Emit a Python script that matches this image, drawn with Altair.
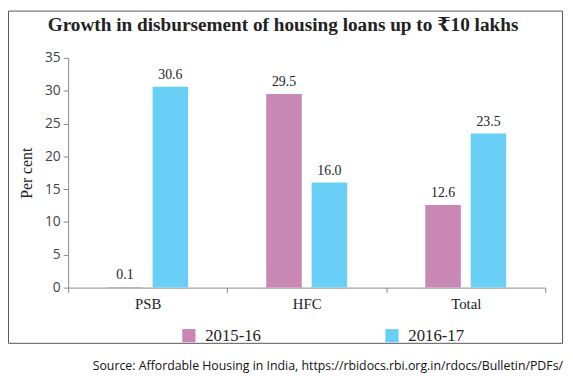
import altair as alt
import pandas as pd

categories = ["PSB", "HFC", "Total"]
series_names = ["2015-16", "2016-17"]
values_2015_16 = [0.1, 29.5, 12.6]
values_2016_17 = [30.6, 16.0, 23.5]
y_ticks = [0, 5, 10, 15, 20, 25, 30, 35]
title_text = ["Growth in disbursement of housing loans up to ₹10 lakhs"]
source_text = ["Source: Affordable Housing in India, https://rbidocs.rbi.org.in/rdocs/Bulletin/PDFs/"]
colors = ["#C888B3", "#6ACFF6"]

rows = []
for i, c in enumerate(categories):
    rows.append({"cat": c, "series": series_names[0], "value": values_2015_16[i]})
    rows.append({"cat": c, "series": series_names[1], "value": values_2016_17[i]})
df = pd.DataFrame(rows)

SERIF = "Liberation Serif, DejaVu Serif, serif"
SANS = "Open Sans, Noto Sans, sans-serif"

x_enc = alt.X("cat:N", sort=categories, title=None,
              scale=alt.Scale(paddingInner=0, paddingOuter=0),
              axis=alt.Axis(labelAngle=0, tickBand="extent", labelFont=SERIF, labelFontSize=15,
                            labelColor="#222", domainColor="#888", tickColor="#888", tickSize=5,
                            labelPadding=4))
xoff = alt.XOffset("series:N", sort=series_names,
                   scale=alt.Scale(paddingInner=0.217, paddingOuter=0.86))
y_enc = alt.Y("value:Q", title="Per cent",
              scale=alt.Scale(domain=[0, 35], nice=False),
              axis=alt.Axis(values=y_ticks, grid=False, labelFont=SANS, labelFontSize=14,
                            labelColor="#444", domainColor="#888", tickColor="#888", tickSize=5,
                            labelPadding=3, titleFont=SERIF, titleFontSize=16, titleFontWeight="normal",
                            titleColor="#222", titlePadding=10, labelOverlap=False))

bars = alt.Chart(df).mark_bar().encode(
    x=x_enc, xOffset=xoff, y=y_enc,
    color=alt.Color("series:N", sort=series_names, title=None,
                    scale=alt.Scale(domain=series_names, range=colors),
                    legend=alt.Legend(orient="none", legendX=114, legendY=273, direction="horizontal",
                                      symbolType="square", symbolSize=180, symbolStrokeWidth=0,
                                      labelFont=SERIF, labelFontSize=17, labelColor="#222",
                                      columnPadding=124, labelOffset=8)),
)

labels = alt.Chart(df).mark_text(baseline="bottom", dy=-5, font=SERIF, fontSize=14, color="#222").encode(
    x=x_enc, xOffset=xoff, y=y_enc,
    text=alt.Text("value:Q", format=".1f"),
)

border = alt.Chart(pd.DataFrame({"k": [0]})).mark_rect(fill="transparent", stroke="#555", strokeWidth=1).encode(
    x=alt.value(-60.5), x2=alt.value(501.5), y=alt.value(-47.5), y2=alt.value(289.5)
)

title = alt.Chart(pd.DataFrame({"t": title_text})).mark_text(
    align="center", baseline="middle", font=SERIF, fontSize=19.5, fontWeight="bold", color="#222"
).encode(x=alt.value(218), y=alt.value(-33), text="t:N")

source = alt.Chart(pd.DataFrame({"t": source_text})).mark_text(
    align="right", baseline="middle", font=SANS, fontSize=12.5, color="#111"
).encode(x=alt.value(502), y=alt.value(313), text="t:N")

chart = alt.layer(border, bars, labels, title, source).properties(
    width=484, height=233,
    autosize=alt.AutoSizeParams(type="none"),
    padding={"left": 61, "top": 48, "right": 20, "bottom": 86},
).configure_view(stroke=None)

chart.save("out.html", embed_options={"renderer": "svg", "actions": False})
